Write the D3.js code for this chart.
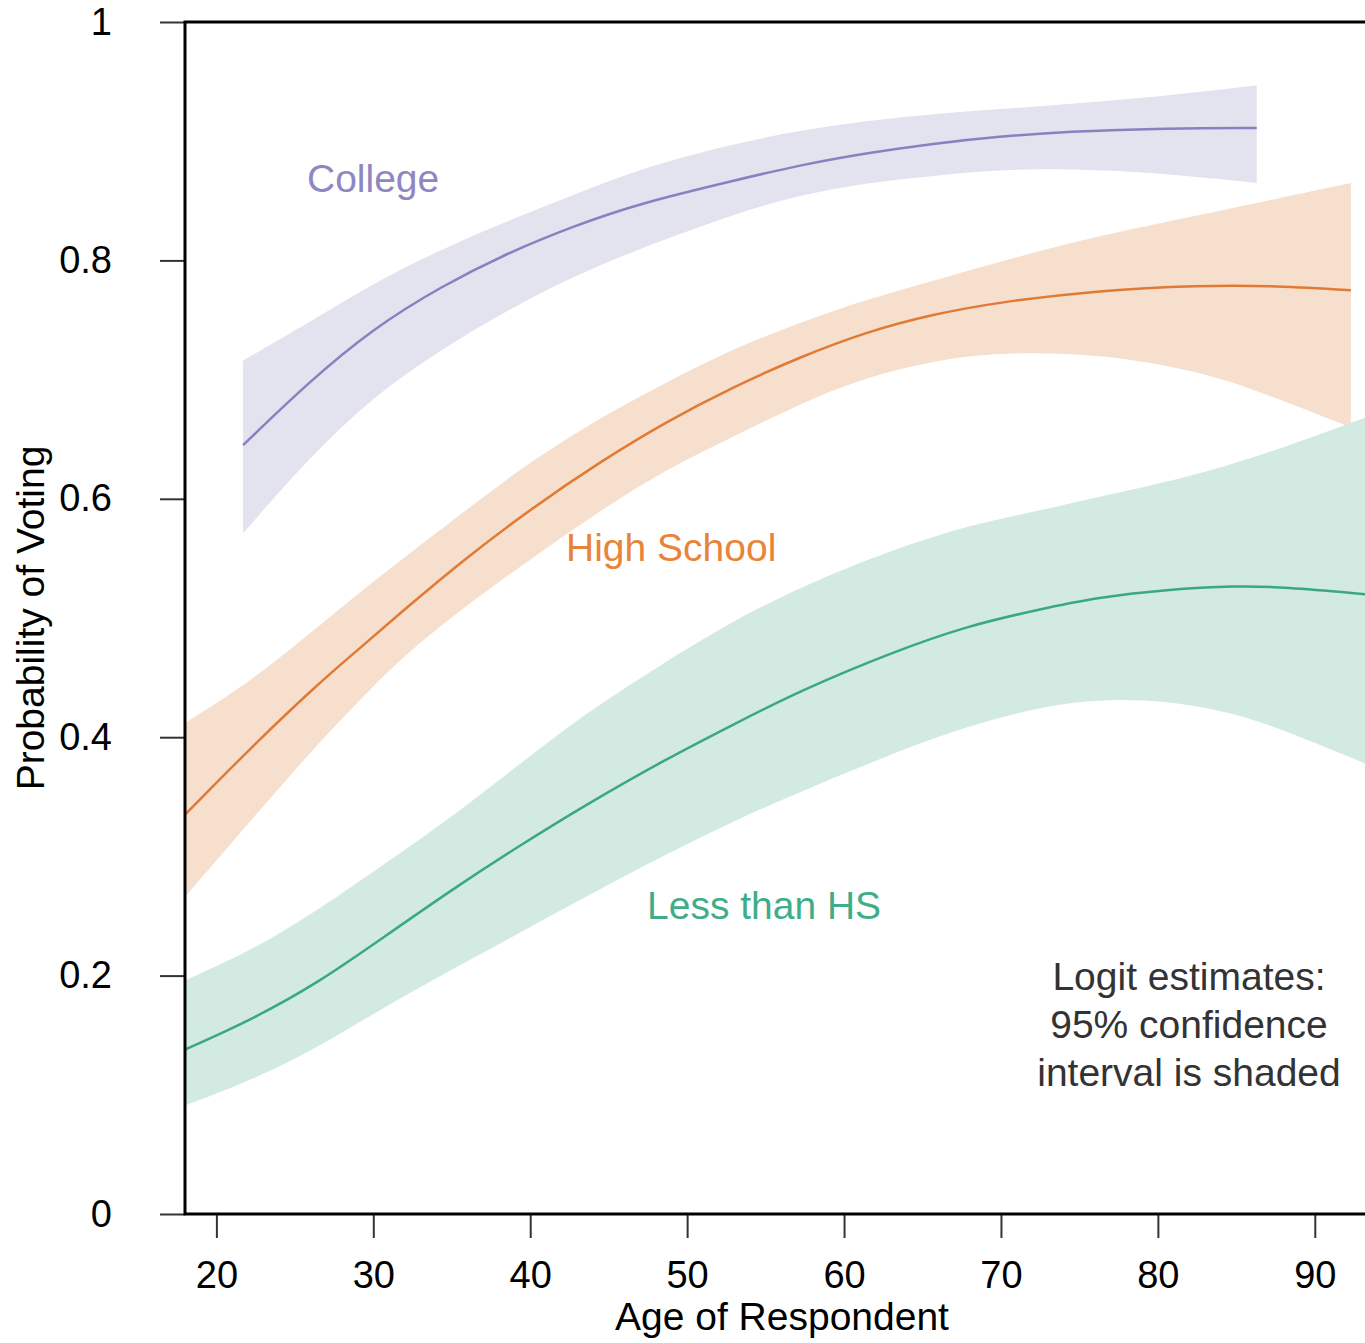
<!DOCTYPE html>
<html>
<head>
<meta charset="utf-8">
<script src="https://cdn.jsdelivr.net/npm/d3@7"></script>
<style>
  body { margin: 0; background: #fff; }
  svg { display: block; font-family: "Liberation Sans", Arial, sans-serif; }
</style>
</head>
<body>
<svg id="chart" width="1365" height="1343"></svg>
<script>
// ages where estimates were read off the picture
const collegeAges = [21.7, 25.8, 30, 34.3, 38.5, 42.8, 47, 53, 57.2, 61.4, 65.7, 69.9, 74.2, 80.6, 86.3];
const collegeFit = [0.645, 0.697, 0.743, 0.778, 0.806, 0.829, 0.848, 0.867, 0.880, 0.890, 0.898, 0.904, 0.908, 0.911, 0.911];
const collegeHi = [0.716, 0.747, 0.781, 0.809, 0.833, 0.855, 0.877, 0.898, 0.909, 0.917, 0.923, 0.927, 0.931, 0.938, 0.947];
const collegeLo = [0.571, 0.633, 0.686, 0.725, 0.758, 0.787, 0.810, 0.839, 0.855, 0.865, 0.871, 0.876, 0.877, 0.873, 0.865];

const hsAges = [18, 22.25, 26.5, 29, 31.7, 35.95, 40.2, 44.45, 48.7, 52.95, 57.2, 61.4, 65.7, 69.9, 76.3, 82.7, 86.9, 92.3];
const hsFit = [0.335, 0.392, 0.445, 0.473, 0.504, 0.551, 0.593, 0.631, 0.665, 0.694, 0.719, 0.740, 0.755, 0.765, 0.775, 0.779, 0.779, 0.775];
const hsHi = [0.412, 0.447, 0.493, 0.520, 0.548, 0.591, 0.633, 0.668, 0.698, 0.726, 0.748, 0.767, 0.783, 0.799, 0.821, 0.838, 0.850, 0.865];
const hsLo = [0.266, 0.331, 0.395, 0.429, 0.466, 0.511, 0.551, 0.590, 0.625, 0.652, 0.680, 0.702, 0.716, 0.723, 0.722, 0.707, 0.688, 0.660];

const lhsAges = [18, 22.25, 26.5, 30.75, 35, 39.2, 43.5, 48.7, 53, 57.2, 63, 68, 72.4, 76, 80.6, 85, 88, 93.2];
const lhsFit = [0.138, 0.163, 0.194, 0.233, 0.272, 0.308, 0.343, 0.382, 0.411, 0.439, 0.471, 0.494, 0.507, 0.517, 0.524, 0.527, 0.526, 0.520];
const lhsHi = [0.196, 0.221, 0.255, 0.294, 0.333, 0.376, 0.420, 0.464, 0.498, 0.526, 0.557, 0.578, 0.590, 0.601, 0.614, 0.630, 0.643, 0.668];
const lhsLo = [0.091, 0.112, 0.140, 0.174, 0.205, 0.235, 0.266, 0.302, 0.330, 0.354, 0.386, 0.410, 0.425, 0.432, 0.431, 0.420, 0.406, 0.378];

const xTicks = [20, 30, 40, 50, 60, 70, 80, 90];
const yTicks = [0, 0.2, 0.4, 0.6, 0.8, 1];

const groups = [
  { name: "College", ages: collegeAges, fit: collegeFit, hi: collegeHi, lo: collegeLo,
    line: "#8a80c0", band: "#e3e2ef", text: "#8e87c2", lx: 307, ly: 192 },
  { name: "High School", ages: hsAges, fit: hsFit, hi: hsHi, lo: hsLo,
    line: "#e17a33", band: "#f7dfcd", text: "#e8843a", lx: 566, ly: 561 },
  { name: "Less than HS", ages: lhsAges, fit: lhsFit, hi: lhsHi, lo: lhsLo,
    line: "#3aa884", band: "#d2eae1", text: "#3fae88", lx: 647, ly: 919 }
];

const svg = d3.select("#chart");

const x = d3.scaleLinear().domain([18, 93.2]).range([185, 1365]);
const y = d3.scaleLinear().domain([0, 1]).range([1214, 22]);

groups.forEach(g => {
  g.rows = g.ages.map((a, i) => ({ age: a, fit: g.fit[i], hi: g.hi[i], lo: g.lo[i] }));
});

// bands first, then lines on top
const area = d3.area()
  .x(d => x(d.age))
  .y0(d => y(d.lo))
  .y1(d => y(d.hi))
  .curve(d3.curveBasis);

const line = d3.line()
  .x(d => x(d.age))
  .y(d => y(d.fit))
  .curve(d3.curveBasis);

groups.forEach(g => {
  svg.append("path")
    .datum(g.rows)
    .attr("d", area)
    .attr("fill", g.band);
});

groups.forEach(g => {
  svg.append("path")
    .datum(g.rows)
    .attr("d", line)
    .attr("fill", "none")
    .attr("stroke", g.line)
    .attr("stroke-width", 2.5);

  svg.append("text")
    .attr("x", g.lx)
    .attr("y", g.ly)
    .attr("font-size", 39)
    .attr("fill", g.text)
    .text(g.name);
});

// axes
const yAxis = svg.append("g")
  .attr("transform", "translate(185,0)")
  .call(d3.axisLeft(y).tickValues(yTicks).tickFormat(d3.format("")).tickSize(25).tickPadding(48));

const xAxis = svg.append("g")
  .attr("transform", "translate(0,1214)")
  .call(d3.axisBottom(x).tickValues(xTicks).tickSize(24).tickPadding(23));

[yAxis, xAxis].forEach(ax => {
  ax.select(".domain").remove();
  ax.selectAll(".tick line").attr("stroke", "#333").attr("stroke-width", 2);
  ax.selectAll(".tick text")
    .attr("font-size", 38)
    .attr("font-family", "Liberation Sans, Arial, sans-serif")
    .attr("fill", "#000");
});

// frame: left, top and bottom lines (right side falls outside)
svg.append("rect")
  .attr("x", x(18))
  .attr("y", y(1))
  .attr("width", 1190)
  .attr("height", y(0) - y(1))
  .attr("fill", "none")
  .attr("stroke", "#000")
  .attr("stroke-width", 3);

// axis titles
svg.append("text")
  .attr("x", 782)
  .attr("y", 1330)
  .attr("text-anchor", "middle")
  .attr("font-size", 39)
  .text("Age of Respondent");

svg.append("text")
  .attr("transform", "translate(44,618) rotate(-90)")
  .attr("text-anchor", "middle")
  .attr("font-size", 39)
  .text("Probability of Voting");

// note
const note = ["Logit estimates:", "95% confidence", "interval is shaded"];
svg.append("text")
  .attr("x", 1189)
  .attr("y", 990)
  .attr("text-anchor", "middle")
  .attr("font-size", 39)
  .attr("fill", "#333")
  .selectAll("tspan")
  .data(note)
  .join("tspan")
  .attr("x", 1189)
  .attr("dy", (d, i) => i === 0 ? 0 : 48)
  .text(d => d);
</script>
</body>
</html>
